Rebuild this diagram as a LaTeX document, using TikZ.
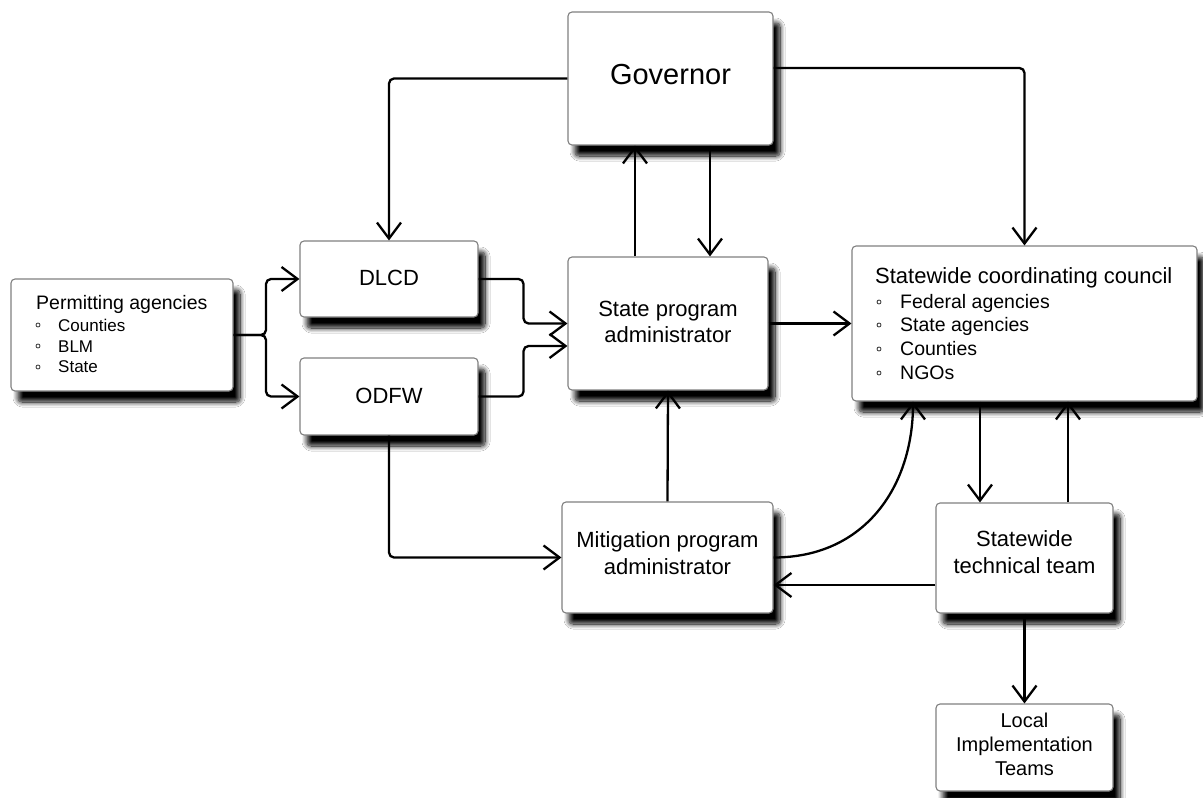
\documentclass[tikz,border=0pt]{standalone}
\usepackage{fontspec}
\setmainfont{Liberation Sans}
\usetikzlibrary{arrows.meta,shadows.blur,calc}
\begin{document}
\begin{tikzpicture}[x=1pt,y=-1pt,
  box/.style={draw=black!50, line width=1.1pt, fill=white, rounded corners=4pt,
    blur shadow={shadow xshift=7pt, shadow yshift=-11pt, shadow blur radius=5pt, shadow blur steps=12, shadow opacity=100},
    inner sep=0pt},
  conn/.style={line width=2.3pt, draw=black, rounded corners=5pt},
  arr/.style={conn, -{Straight Barb[length=16pt,width=24pt]}},
  lbl/.style={align=center, inner sep=0pt, text=black},
  item/.style={anchor=base west, inner sep=0pt, text=black},
  bul/.style={draw=black!80, line width=0.8pt},
]
\fill[white] (0,0) rectangle (1203,798);
\useasboundingbox (0,0) rectangle (1203,798);

% boxes
\node[box, minimum width=222pt, minimum height=112pt] (perm) at (122,335) {};
\node[box, minimum width=178pt, minimum height=76pt] (dlcd) at (389,279) {};
\node[box, minimum width=178pt, minimum height=77pt] (odfw) at (389,396.5) {};
\node[box, minimum width=205pt, minimum height=133pt] (gov) at (670.5,78.5) {};
\node[box, minimum width=200pt, minimum height=133pt] (spa) at (668,323.5) {};
\node[box, minimum width=345pt, minimum height=155pt] (council) at (1024.5,323.5) {};
\node[box, minimum width=211pt, minimum height=111pt] (mit) at (667.5,557.5) {};
\node[box, minimum width=177pt, minimum height=110pt] (tech) at (1024.5,558) {};
\node[box, minimum width=177pt, minimum height=87pt] (local) at (1024.5,747.5) {};

% texts
\node[item, font=\fontsize{19.5}{23}\selectfont] (permT) at (36,309) {Permitting agencies};
\node[item, font=\fontsize{17}{20}\selectfont] (permA) at (58,331) {Counties};
\node[item, font=\fontsize{17}{20}\selectfont] (permB) at (58,352) {BLM};
\node[item, font=\fontsize{17}{20}\selectfont] (permC) at (58,372) {State};
\draw[bul] (38,325) circle (2pt) (38,346) circle (2pt) (38,367) circle (2pt);

\node[lbl, font=\fontsize{22}{26}\selectfont] (dlcdT) at (389,278) {DLCD};
\node[lbl, font=\fontsize{22}{26}\selectfont] (odfwT) at (389,395.5) {ODFW};
\node[lbl, font=\fontsize{29}{34}\selectfont] (govT) at (670.5,74.5) {Governor};
\node[lbl, font=\fontsize{22}{26}\selectfont] (spaT) at (668,322) {State program\\administrator};
\node[lbl, font=\fontsize{22}{27}\selectfont] (mitT) at (667.5,553.5) {Mitigation program\\administrator};
\node[lbl, font=\fontsize{22}{27}\selectfont] (techT) at (1024.5,552.5) {Statewide\\technical team};
\node[lbl, font=\fontsize{20}{24}\selectfont] (localT) at (1024.5,744) {Local\\Implementation\\Teams};

\node[item, font=\fontsize{22}{26}\selectfont] (councilT) at (875,283) {Statewide coordinating council};
\node[item, font=\fontsize{19.5}{23}\selectfont] (councilA) at (900,308) {Federal agencies};
\node[item, font=\fontsize{19.5}{23}\selectfont] (councilB) at (900,331) {State agencies};
\node[item, font=\fontsize{19.5}{23}\selectfont] (councilC) at (900,355) {Counties};
\node[item, font=\fontsize{19.5}{23}\selectfont] (councilD) at (900,379) {NGOs};
\draw[bul] (879,302) circle (2pt) (879,325) circle (2pt) (879,349) circle (2pt) (879,373) circle (2pt);

% connectors
\coordinate (j1) at (266,335);
\draw[arr] (perm.east) -- (j1) |- (dlcd.west);
\draw[arr] (perm.east) -- (j1) |- (odfw.west);
\draw[arr] (dlcd.east) -- ++(45,0) |- (spa.west);
\draw[arr] (odfw.east) -- ++(45,0) |- ([yshift=-22.5pt]spa.west);
\draw[arr] (gov.west) -| (dlcd.north);
\draw[arr] ([yshift=10.5pt]gov.east) -| (council.north);
\draw[arr] ([xshift=-33pt]spa.north) -- ([xshift=-35.5pt]gov.south);
\draw[arr] ([xshift=39.5pt]gov.south) -- ([xshift=42pt]spa.north);
\draw[arr] (spa.east) -- (council.west);
\draw[arr] (mit.north) -- (spa.south);
\draw[arr] (odfw.south) |- (mit.west);
\draw[arr] (mit.east) .. controls +(92,0) and +(0,84) .. ([xshift=-111.5pt]council.south);
\draw[arr] ([xshift=-44.5pt]council.south) -- ([xshift=-44.5pt]tech.north);
\draw[arr] ([xshift=43.5pt]tech.north) -- ([xshift=43.5pt]council.south);
\draw[arr] ([yshift=-27pt]tech.west) -- ([yshift=-27.5pt]mit.east);
\draw[arr] (tech.south) -- (local.north);
\end{tikzpicture}
\end{document}
